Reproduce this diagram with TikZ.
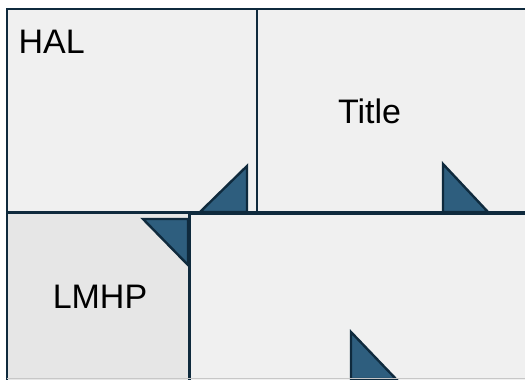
\documentclass[tikz,border=0pt]{standalone}
\usepackage{fontspec}
\setmainfont{Liberation Sans}
\definecolor{edgecol}{HTML}{0F2A3D}
\definecolor{tricol}{HTML}{2E5E7E}
\definecolor{paper}{HTML}{F0F0F0}
\definecolor{paperdark}{HTML}{E6E6E6}
\begin{document}
\begin{tikzpicture}[x=1bp,y=-1bp,
  panel/.style={draw=edgecol, line width=2.6bp, fill=paper, rectangle, inner sep=0pt, outer sep=0pt, anchor=north west},
  fold/.style={draw=edgecol, line width=2.4bp, fill=tricol},
  lbl/.style={font=\fontsize{34bp}{40bp}\selectfont, inner sep=0pt, text=black}]
\useasboundingbox (0,0) rectangle (525,379);
\clip (0,0) rectangle (525,379);
% panels
\node[panel, minimum width=250bp, minimum height=203bp] (hal) at (7,9) {};
\node[panel, minimum width=303bp, minimum height=203bp] (title) at (257,9) {};
\node[panel, fill=paperdark, minimum width=182bp, minimum height=190bp] (lmhp) at (7,213) {};
\node[panel, minimum width=370bp, minimum height=190bp] (main) at (190,214) {};
% folds
\draw[fold] (200,212) -- (247,212) -- (247,166) -- cycle;
\draw[fold] (443,164) -- (443,212) -- (488,212) -- cycle;
\draw[fold] (143,219) -- (188,219) -- (188,265) -- cycle;
\draw[fold] (351,332) -- (351,379) -- (396,379) -- cycle;
% labels
\node[lbl, anchor=base west] (halt) at (18.5,53) {HAL};
\node[lbl, anchor=base] (titlet) at (369.5,123) {Title};
\node[lbl, anchor=base] (lmhpt) at (100,308) {LMHP};
% bottom edge
\draw[black!22, line width=1bp] (7,378.5) -- (525,378.5);
\end{tikzpicture}
\end{document}
